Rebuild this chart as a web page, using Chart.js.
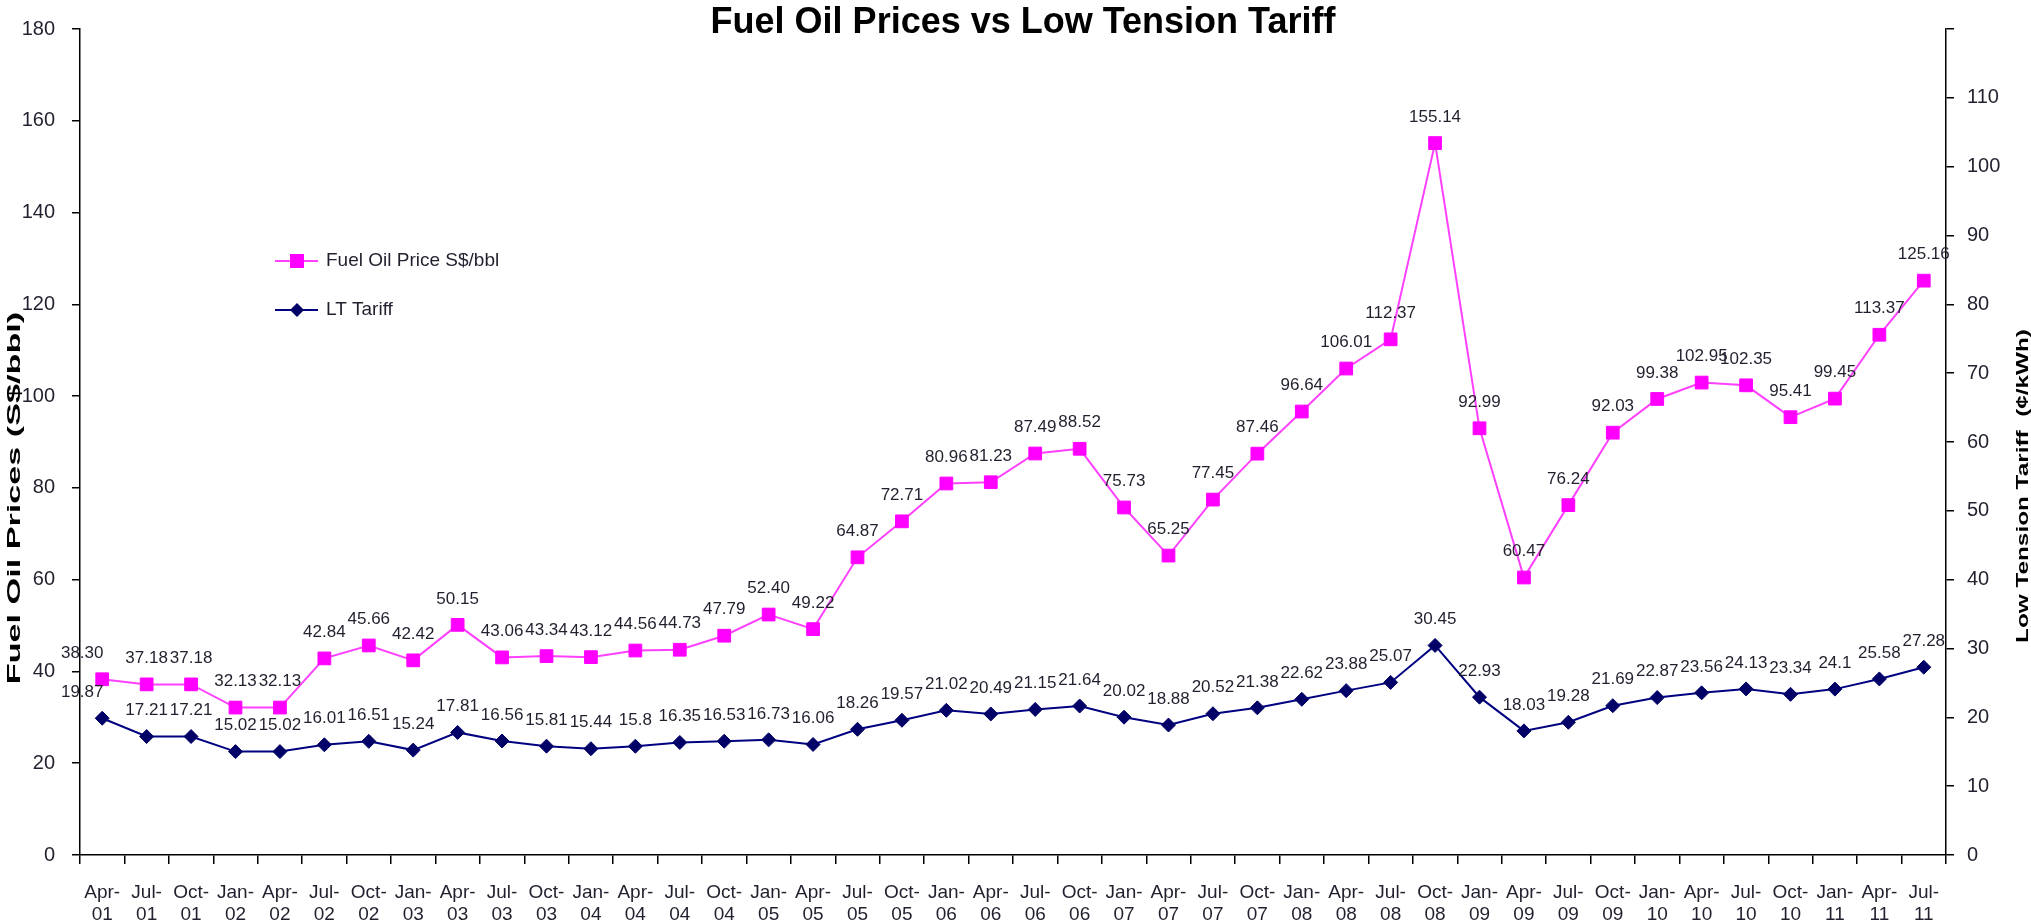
<!DOCTYPE html>
<html lang="en">
<head>
<meta charset="UTF-8">
<title>Fuel Oil Prices vs Low Tension Tariff</title>
<script src="https://cdn.jsdelivr.net/npm/chart.js"></script>
<style>
  html, body { margin: 0; padding: 0; background: #fff; }
</style>
</head>
<body>
<canvas id="fuelChart" width="2031" height="922"></canvas>
<script>
// quarterly data, Apr-01 .. Jul-11
const quarters = ['Apr-01', 'Jul-01', 'Oct-01', 'Jan-02', 'Apr-02', 'Jul-02', 'Oct-02', 'Jan-03', 'Apr-03', 'Jul-03',
  'Oct-03', 'Jan-04', 'Apr-04', 'Jul-04', 'Oct-04', 'Jan-05', 'Apr-05', 'Jul-05', 'Oct-05', 'Jan-06',
  'Apr-06', 'Jul-06', 'Oct-06', 'Jan-07', 'Apr-07', 'Jul-07', 'Oct-07', 'Jan-08', 'Apr-08', 'Jul-08',
  'Oct-08', 'Jan-09', 'Apr-09', 'Jul-09', 'Oct-09', 'Jan-10', 'Apr-10', 'Jul-10', 'Oct-10', 'Jan-11',
  'Apr-11', 'Jul-11'];

const fuelOilPrice = [38.30, 37.18, 37.18, 32.13, 32.13, 42.84, 45.66, 42.42, 50.15, 43.06,
  43.34, 43.12, 44.56, 44.73, 47.79, 52.40, 49.22, 64.87, 72.71, 80.96,
  81.23, 87.49, 88.52, 75.73, 65.25, 77.45, 87.46, 96.64, 106.01, 112.37,
  155.14, 92.99, 60.47, 76.24, 92.03, 99.38, 102.95, 102.35, 95.41, 99.45,
  113.37, 125.16];

const ltTariff = [19.87, 17.21, 17.21, 15.02, 15.02, 16.01, 16.51, 15.24, 17.81, 16.56,
  15.81, 15.44, 15.8, 16.35, 16.53, 16.73, 16.06, 18.26, 19.57, 21.02,
  20.49, 21.15, 21.64, 20.02, 18.88, 20.52, 21.38, 22.62, 23.88, 25.07,
  30.45, 22.93, 18.03, 19.28, 21.69, 22.87, 23.56, 24.13, 23.34, 24.10,
  25.58, 27.28];

const FONT = '"Liberation Sans", Arial, sans-serif';
const TEXT = '#231f2e';

// value labels, title, legend and axis titles
const extras = {
  id: 'extras',
  afterDatasetsDraw(chart) {
    const ctx = chart.ctx;
    const fmt = [v => v.toFixed(2), v => String(v)];
    ctx.save();
    ctx.font = '17px ' + FONT;
    ctx.fillStyle = TEXT;
    ctx.textAlign = 'center';
    ctx.textBaseline = 'middle';
    chart.data.datasets.forEach((ds, i) => {
      chart.getDatasetMeta(i).data.forEach((pt, j) => {
        const dx = j === 0 ? -20 : 0;   // first labels sit left of their point
        ctx.fillText(fmt[i](ds.data[j]), pt.x + dx, pt.y - 26);
      });
    });
    ctx.restore();
  },
  afterDraw(chart) {
    const ctx = chart.ctx;
    ctx.save();
    ctx.fillStyle = '#000';
    ctx.textAlign = 'center';
    ctx.textBaseline = 'middle';
    ctx.font = 'bold 36px ' + FONT;
    ctx.fillText('Fuel Oil Prices vs Low Tension Tariff', 1023, 23);

    // rotated axis titles, stretched along their length like the original
    const vTitle = (text, x, y, size, stretch) => {
      ctx.save();
      ctx.translate(x, y);
      ctx.rotate(-Math.PI / 2);
      ctx.scale(stretch, 1);
      ctx.font = 'bold ' + size + 'px ' + FONT;
      ctx.fillText(text, 0, 0);
      ctx.restore();
    };
    vTitle('Fuel Oil Prices (S$/bbl)', 15, 498, 19, 1.8);
    vTitle('Low Tension Tariff  (\u00a2/kWh)', 2024, 486, 16, 1.52);

    // legend
    const items = [
      { text: 'Fuel Oil Price S$/bbl', line: '#ff40ff', fill: '#ff00ff', shape: 'rect', y: 261 },
      { text: 'LT Tariff', line: '#000080', fill: '#000066', shape: 'diamond', y: 310 }
    ];
    items.forEach(it => {
      ctx.strokeStyle = it.line;
      ctx.lineWidth = 2;
      ctx.beginPath();
      ctx.moveTo(275, it.y);
      ctx.lineTo(318, it.y);
      ctx.stroke();
      ctx.fillStyle = it.fill;
      ctx.beginPath();
      if (it.shape === 'rect') {
        ctx.rect(297 - 7, it.y - 7, 14, 14);
      } else {
        ctx.moveTo(297, it.y - 7);
        ctx.lineTo(304, it.y);
        ctx.lineTo(297, it.y + 7);
        ctx.lineTo(290, it.y);
        ctx.closePath();
      }
      ctx.fill();
      ctx.fillStyle = TEXT;
      ctx.textAlign = 'left';
      ctx.font = '19px ' + FONT;
      ctx.fillText(it.text, 326, it.y);
    });
    ctx.restore();
  }
};

const ctx = document.getElementById('fuelChart').getContext('2d');
new Chart(ctx, {
  type: 'line',
  data: {
    labels: quarters.map(q => [q.slice(0, 4), q.slice(4)]),
    datasets: [
      {
        label: 'Fuel Oil Price S$/bbl',
        data: fuelOilPrice,
        yAxisID: 'y',
        borderColor: '#ff40ff',
        borderWidth: 2,
        pointStyle: 'rect',
        pointRadius: 9,
        pointBackgroundColor: '#ff00ff',
        pointBorderColor: '#ff00ff',
        pointBorderWidth: 1,
        tension: 0,
        fill: false
      },
      {
        label: 'LT Tariff',
        data: ltTariff,
        yAxisID: 'y1',
        borderColor: '#000080',
        borderWidth: 2,
        pointStyle: 'rectRot',
        pointRadius: 7,
        pointBackgroundColor: '#000066',
        pointBorderColor: '#000066',
        pointBorderWidth: 1,
        tension: 0,
        fill: false
      }
    ]
  },
  options: {
    responsive: false,
    animation: false,
    devicePixelRatio: 1,
    layout: { padding: { top: 28 } },
    plugins: {
      legend: { display: false },
      title: { display: false },
      tooltip: { enabled: false }
    },
    scales: {
      x: {
        offset: true,
        grid: { offset: true, drawOnChartArea: false, tickLength: 9, color: '#000', lineWidth: 1.5 },
        border: { color: '#000', width: 1.5 },
        ticks: { font: { family: FONT, size: 19, lineHeight: 1.2 }, color: TEXT, padding: 17, maxRotation: 0, autoSkip: false },
        afterFit: s => { s.height = 67; }
      },
      y: {
        position: 'left',
        min: 0,
        max: 180,
        ticks: { stepSize: 20, font: { family: FONT, size: 20 }, color: TEXT, padding: 17 },
        grid: { drawOnChartArea: false, tickLength: 8, color: '#000', lineWidth: 1.5 },
        border: { color: '#000', width: 1.5 },
        afterFit: s => { s.width = 80; }
      },
      y1: {
        position: 'right',
        min: 0,
        max: 120,
        ticks: { stepSize: 10, font: { family: FONT, size: 20 }, color: TEXT, padding: 13,
          callback: v => (v === 120 ? '' : v) },
        grid: { drawOnChartArea: false, tickLength: 8, color: '#000', lineWidth: 1.5 },
        border: { color: '#000', width: 1.5 },
        afterFit: s => { s.width = 85; }
      }
    }
  },
  plugins: [extras]
});
</script>
</body>
</html>
